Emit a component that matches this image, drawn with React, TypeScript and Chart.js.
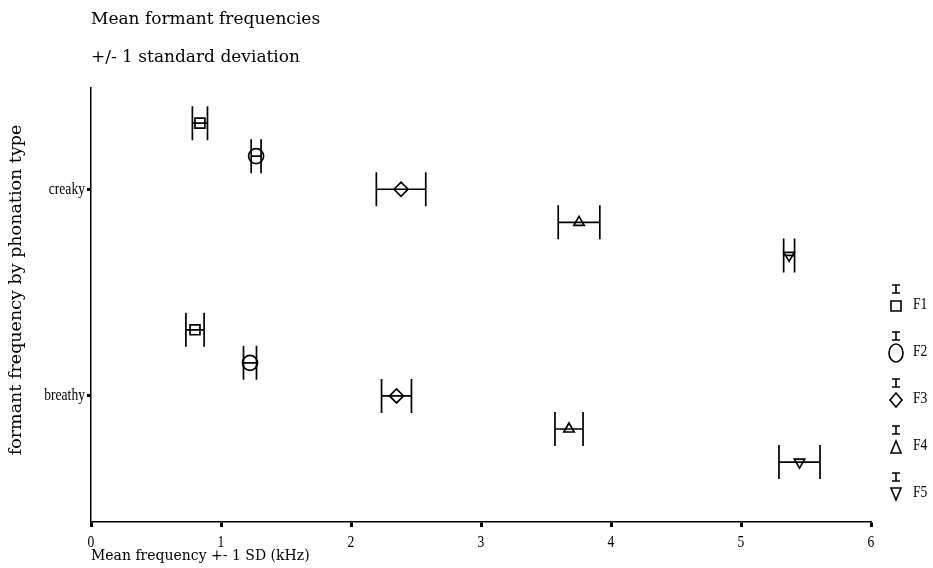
import React, { useEffect, useRef } from "react";
import { Chart, registerables } from "chart.js";

Chart.register(...registerables);

const categories = ["breathy", "creaky"];
const categoryValues = [1, 2];
const formants = ["F1", "F2", "F3", "F4", "F5"];
const creakyMean = [0.838, 1.27, 2.385, 3.754, 5.37];
const creakySD = [0.058, 0.038, 0.19, 0.16, 0.042];
const breathyMean = [0.8, 1.223, 2.35, 3.677, 5.45];
const breathySD = [0.07, 0.05, 0.115, 0.108, 0.158];
const xTicks = [0, 1, 2, 3, 4, 5, 6];

const titleText = "Mean formant frequencies";
const subtitleText = "+/- 1 standard deviation";
const xTitleText = "Mean frequency +- 1 SD (kHz)";
const yTitleText = "formant frequency by phonation type";

// layout constants (vertical stacking of formants within a category band)
const formantOffsets = [0.32, 0.16, 0, -0.16, -0.32];
const pointStyles = ["rect", "circle", "rectRot", "triangle", "triangle"];
const pointRotations = [0, 0, 0, 0, 180];
const pointRadii = [7, 7.5, 7, 6, 6];

const TITLE_FONT = "17px 'DejaVu Serif'";
const XTITLE_FONT = "14px 'DejaVu Serif'";
const YTITLE_FONT = "17.5px 'DejaVu Serif'";
const SMALL_FONT = "17px 'Liberation Serif'";
const SMALL_SCALE = 0.8;

function drawCondensed(ctx: CanvasRenderingContext2D, text: string, x: number, y: number, align: CanvasTextAlign) {
  ctx.save();
  ctx.font = SMALL_FONT;
  ctx.textAlign = align;
  ctx.textBaseline = "middle";
  ctx.translate(x, y);
  ctx.scale(SMALL_SCALE, 1);
  ctx.fillText(text, 0, 0);
  ctx.restore();
}

function drawLegendMarker(ctx: CanvasRenderingContext2D, i: number, cx: number, cy: number) {
  ctx.beginPath();
  if (i === 0) {
    ctx.rect(cx - 5, cy - 5, 10, 10);
  } else if (i === 1) {
    ctx.ellipse(cx, cy, 7, 9, 0, 0, Math.PI * 2);
  } else if (i === 2) {
    ctx.moveTo(cx, cy - 7);
    ctx.lineTo(cx + 6, cy);
    ctx.lineTo(cx, cy + 7);
    ctx.lineTo(cx - 6, cy);
    ctx.closePath();
  } else if (i === 3) {
    ctx.moveTo(cx, cy - 6);
    ctx.lineTo(cx + 5, cy + 6);
    ctx.lineTo(cx - 5, cy + 6);
    ctx.closePath();
  } else {
    ctx.moveTo(cx, cy + 6);
    ctx.lineTo(cx + 5, cy - 6);
    ctx.lineTo(cx - 5, cy - 6);
    ctx.closePath();
  }
  ctx.stroke();
}

const errorBarPlugin = {
  id: "errorBars",
  afterDatasetsDraw(chart: any) {
    const { ctx } = chart;
    const x = chart.scales.x;
    const y = chart.scales.y;
    ctx.save();
    ctx.strokeStyle = "#000";
    ctx.lineWidth = 1.7;
    chart.data.datasets.forEach((ds: any) => {
      ds.data.forEach((p: any) => {
        const xl = x.getPixelForValue(p.x - p.sd);
        const xr = x.getPixelForValue(p.x + p.sd);
        const py = y.getPixelForValue(p.y);
        ctx.beginPath();
        ctx.moveTo(xl, py);
        ctx.lineTo(xr, py);
        ctx.moveTo(xl, py - 17);
        ctx.lineTo(xl, py + 17);
        ctx.moveTo(xr, py - 17);
        ctx.lineTo(xr, py + 17);
        ctx.stroke();
      });
    });
    ctx.restore();
  },
};

const textPlugin = {
  id: "texts",
  afterDraw(chart: any) {
    const { ctx, chartArea } = chart;
    const x = chart.scales.x;
    const y = chart.scales.y;
    ctx.save();
    ctx.fillStyle = "#000";
    ctx.textAlign = "left";
    ctx.textBaseline = "middle";
    ctx.font = TITLE_FONT;
    ctx.fillText(titleText, chartArea.left, 20);
    ctx.fillText(subtitleText, chartArea.left, 58);
    ctx.font = XTITLE_FONT;
    ctx.fillText(xTitleText, chartArea.left, 556);
    ctx.save();
    ctx.font = YTITLE_FONT;
    ctx.translate(16, 290);
    ctx.rotate(-Math.PI / 2);
    ctx.textAlign = "center";
    ctx.fillText(yTitleText, 0, 0);
    ctx.restore();

    // tick labels (condensed serif)
    xTicks.forEach((v) => {
      drawCondensed(ctx, String(v), x.getPixelForValue(v), 543, "center");
    });
    categoryValues.forEach((v, i) => {
      drawCondensed(ctx, categories[i], chartArea.left - 6, y.getPixelForValue(v), "right");
    });

    // legend
    ctx.strokeStyle = "#000";
    ctx.lineWidth = 1.6;
    const lx = 896;
    formants.forEach((f, i) => {
      const cy = 306 + i * 47;
      ctx.beginPath();
      ctx.moveTo(lx - 4, cy - 21);
      ctx.lineTo(lx + 4, cy - 21);
      ctx.moveTo(lx, cy - 21);
      ctx.lineTo(lx, cy - 13);
      ctx.moveTo(lx - 4, cy - 13);
      ctx.lineTo(lx + 4, cy - 13);
      ctx.stroke();
      drawLegendMarker(ctx, i, lx, cy);
      drawCondensed(ctx, f, 913, cy - 1, "left");
    });
    ctx.restore();
  },
};

export default function App() {
  const ref = useRef<HTMLCanvasElement>(null);
  useEffect(() => {
    document.body.style.margin = "0";
    const canvas = ref.current!;
    const datasets = formants.map((f, i) => ({
      label: f,
      data: [
        { x: creakyMean[i], y: categoryValues[1] + formantOffsets[i], sd: creakySD[i] },
        { x: breathyMean[i], y: categoryValues[0] + formantOffsets[i], sd: breathySD[i] },
      ],
      pointStyle: pointStyles[i],
      rotation: pointRotations[i],
      pointRadius: pointRadii[i],
      pointBorderColor: "#000",
      pointBackgroundColor: "rgba(0,0,0,0)",
      pointBorderWidth: 1.7,
      showLine: false,
    }));
    const chart = new Chart(canvas, {
      type: "scatter",
      data: { datasets },
      plugins: [errorBarPlugin, textPlugin],
      options: {
        responsive: false,
        animation: false,
        layout: { padding: { left: 0, top: 88, right: 62, bottom: 0 } },
        plugins: { legend: { display: false }, tooltip: { enabled: false } },
        scales: {
          x: {
            type: "linear",
            min: xTicks[0],
            max: xTicks[xTicks.length - 1],
            afterBuildTicks: (s: any) => {
              s.ticks = xTicks.map((v) => ({ value: v }));
            },
            afterFit: (s: any) => {
              s.height = 46;
            },
            ticks: { display: false },
            grid: {
              drawOnChartArea: false,
              drawTicks: true,
              tickLength: 5,
              tickWidth: 3,
              tickColor: "#000",
            },
            border: { color: "#000", width: 1.5 },
          },
          y: {
            type: "linear",
            min: 0.39,
            max: 2.49,
            afterBuildTicks: (s: any) => {
              s.ticks = categoryValues.map((v) => ({ value: v }));
            },
            afterFit: (s: any) => {
              s.width = 91;
            },
            ticks: { display: false },
            grid: {
              drawOnChartArea: false,
              drawTicks: true,
              tickLength: 4,
              tickWidth: 3,
              tickColor: "#000",
            },
            border: { color: "#000", width: 1.5 },
          },
        },
      },
    } as any);
    return () => chart.destroy();
  }, []);
  return <canvas ref={ref} width={933} height={568} style={{ display: "block" }} />;
}
